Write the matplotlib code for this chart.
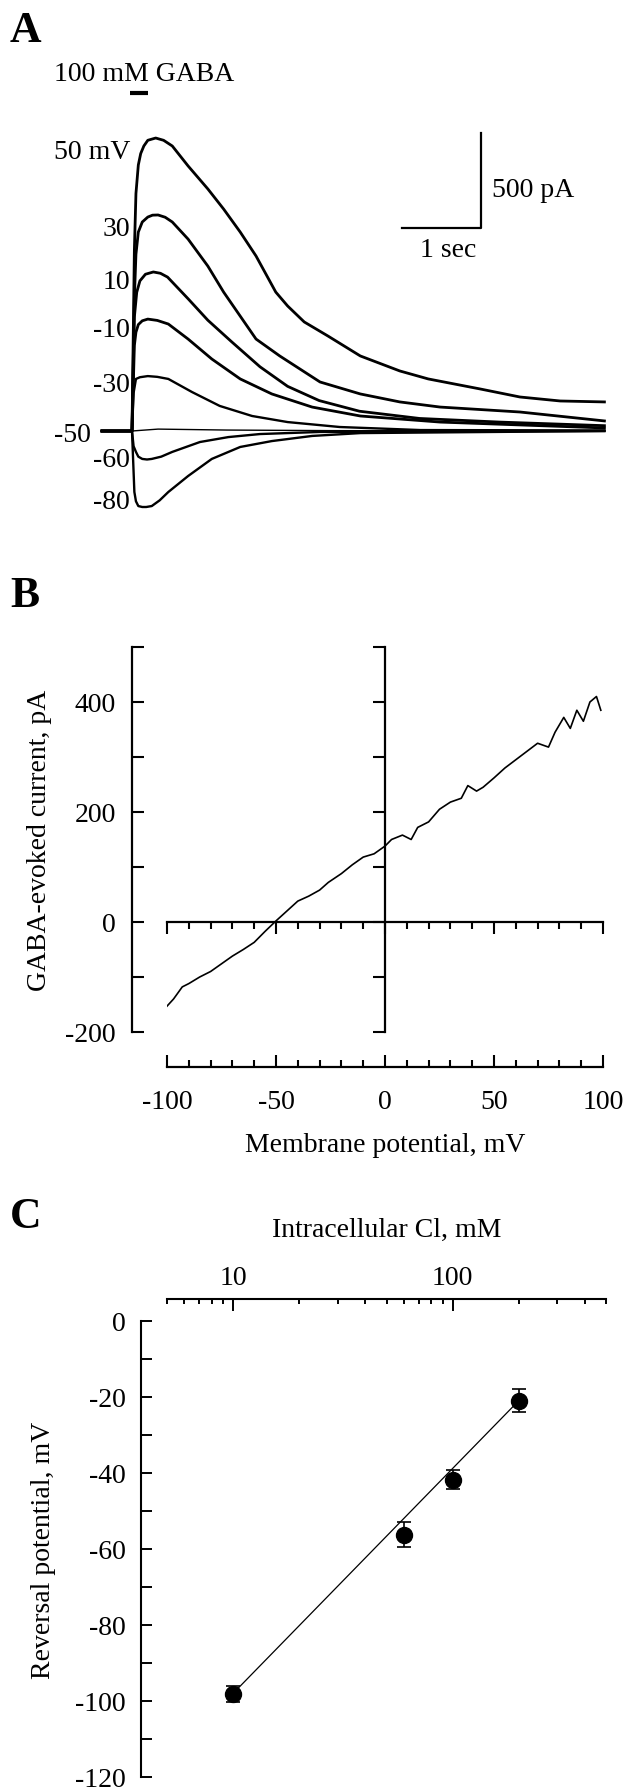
import matplotlib
matplotlib.use('Agg')
import matplotlib.pyplot as plt
from matplotlib.ticker import MultipleLocator, FixedLocator, NullFormatter, LogLocator

plt.rcParams['font.family'] = ['Liberation Serif', 'DejaVu Serif']
plt.rcParams['axes.unicode_minus'] = False
plt.rcParams['font.size'] = 20

# ---- A: GABA-evoked currents, time in s, current in pA ----
hold_labels = ['50 mV', '30', '10', '-10', '-30', '-50', '-60', '-80']
t_p50 = [-0.38, 0.0, 0.03, 0.05, 0.08, 0.11, 0.15, 0.20, 0.30, 0.40, 0.51, 0.71, 0.96, 1.16, 1.37, 1.57, 1.82, 1.97, 2.18, 2.48, 2.89, 3.39, 3.75, 4.41, 4.91, 5.42, 5.98]
i_p50 = [0, 0, 950, 1250, 1400, 1460, 1500, 1530, 1542, 1530, 1500, 1395, 1274, 1168, 1047, 921, 731, 658, 574, 500, 395, 316, 274, 221, 179, 158, 153]
t_p30 = [-0.38, 0.0, 0.03, 0.05, 0.08, 0.13, 0.20, 0.26, 0.33, 0.42, 0.51, 0.71, 0.96, 1.16, 1.57, 1.87, 2.38, 2.89, 3.39, 3.90, 4.91, 5.98]
i_p30 = [0, 0, 700, 930, 1047, 1100, 1126, 1136, 1137, 1125, 1100, 1010, 868, 731, 484, 395, 258, 195, 153, 126, 100, 53]
t_p10 = [-0.38, 0.0, 0.03, 0.06, 0.10, 0.17, 0.27, 0.36, 0.45, 0.71, 0.96, 1.26, 1.62, 1.97, 2.37, 2.88, 3.64, 4.65, 5.98]
i_p10 = [0, 0, 600, 730, 790, 825, 837, 830, 810, 696, 583, 470, 338, 235, 160, 104, 66, 47, 28]
t_m10 = [-0.38, 0.0, 0.03, 0.05, 0.08, 0.13, 0.20, 0.32, 0.46, 0.71, 1.01, 1.37, 1.77, 2.28, 2.89, 3.90, 5.98]
i_m10 = [0, 0, 450, 520, 560, 580, 589, 582, 563, 484, 379, 274, 195, 126, 79, 47, 16]
t_m30 = [-0.38, 0.0, 0.02, 0.05, 0.10, 0.20, 0.32, 0.46, 0.76, 1.11, 1.52, 1.97, 2.63, 3.65, 5.98]
i_m30 = [0, 0, 200, 274, 283, 289, 285, 274, 205, 132, 79, 47, 21, 5, 3]
t_m50 = [-0.38, 0.0, 0.33, 1.2, 2.5, 5.98]
i_m50 = [0, 0, 10, 5, 2, 0]
t_m60 = [-0.38, 0.0, 0.02, 0.05, 0.08, 0.13, 0.19, 0.25, 0.37, 0.51, 0.86, 1.22, 1.62, 2.38, 5.98]
i_m60 = [0, 0, -80, -110, -135, -147, -150, -147, -135, -110, -58, -32, -16, -5, 0]
t_m80 = [-0.38, 0.0, 0.03, 0.05, 0.08, 0.13, 0.18, 0.25, 0.35, 0.46, 0.71, 1.01, 1.37, 1.77, 2.28, 2.89, 5.98]
i_m80 = [0, 0, -321, -370, -395, -400, -400, -395, -365, -321, -237, -147, -84, -53, -26, -11, 0]
gaba_on = [-0.02, 0.2]

# ---- B: I-V relation ----
vm = [-100, -97, -93, -90, -85, -80, -75, -70, -65, -60, -55, -50, -45, -40, -35, -30, -26, -20, -15, -10, -5, 0,
      3, 8, 12, 15, 20, 25, 30, 35, 38, 42, 45, 50, 55, 60, 65, 70, 75, 78, 82, 85, 88, 91, 94, 97, 99]
i_gaba = [-153, -140, -118, -112, -100, -90, -76, -62, -50, -37, -17, 2, 20, 38, 47, 58, 72, 88, 104, 118, 124, 138,
          150, 158, 150, 172, 182, 205, 218, 225, 248, 238, 245, 262, 280, 295, 310, 325, 318, 345, 372, 352, 385, 365, 400, 410, 385]

# ---- C: reversal potential vs intracellular Cl ----
cl_mM = [10, 60, 100, 200]
erev = [-98.2, -56.2, -41.8, -21.0]
erev_err = [2.1, 3.3, 2.5, 3.0]
fit_cl = [10, 200]
fit_erev = [-98, -21]

W, H = 625, 1790
PT = 0.72  # points per pixel at dpi 100


def box(l, t, r, b):
    return [l / W, 1 - b / H, (r - l) / W, (b - t) / H]


fig = plt.figure(figsize=(W / 100, H / 100), dpi=100)

# ---------------- A ----------------
T0, PX_S, Y0, PX_PA = 132, 79, 432, 0.19
tx = lambda px: (px - T0) / PX_S
iy = lambda py: (Y0 - py) / PX_PA

axA = fig.add_axes(box(0, 0, W, 560))
axA.axis('off')
axA.set_xlim(tx(0), tx(W))
axA.set_ylim(iy(560), iy(0))

traces = [(t_p50, i_p50, 2.0), (t_p30, i_p30, 2.0), (t_p10, i_p10, 2.0), (t_m10, i_m10, 2.0),
          (t_m30, i_m30, 1.7), (t_m50, i_m50, 1.0), (t_m60, i_m60, 1.7), (t_m80, i_m80, 1.7)]
for t, i, lw in traces:
    axA.plot(t, i, color='k', lw=lw, solid_joinstyle='round')

# holding-potential labels (baseline pixel rows)
lab_rows = [159, 236, 289, 337, 392, 442, 467, 509]
for lab, row in zip(hold_labels, lab_rows):
    xr = tx(91) if lab == '-50' else tx(130)
    axA.text(xr, iy(row), lab, ha='right', va='baseline')

axA.plot(gaba_on, [iy(94)] * 2, color='k', lw=3, solid_capstyle='butt')
axA.text(tx(54), iy(81), '100 mM GABA', ha='left', va='baseline')

# scale bar
axA.plot([tx(402), tx(481), tx(481)], [iy(229), iy(229), iy(134)], color='k', lw=1.6)
axA.text(tx(492), iy(197), '500 pA', ha='left', va='baseline')
axA.text(tx(448), iy(257), '1 sec', ha='center', va='baseline')

# ---------------- B ----------------
axB = fig.add_axes(box(167, 648, 603, 1033))
axB.patch.set_visible(False)
axB.plot(vm, i_gaba, color='k', lw=1.2)
axB.set_xlim(-100, 100)
axB.set_ylim(-200, 500)
axB.spines['left'].set_position(('outward', 35 * PT))
axB.spines['bottom'].set_position(('outward', 35 * PT))
axB.spines['right'].set_position(('data', 0))
axB.spines['top'].set_position(('data', 0))
for s in axB.spines.values():
    s.set_linewidth(1.6)
axB.xaxis.set_major_locator(MultipleLocator(50))
axB.xaxis.set_minor_locator(MultipleLocator(10))
axB.yaxis.set_major_locator(MultipleLocator(200))
axB.yaxis.set_minor_locator(MultipleLocator(100))
axB.tick_params(which='both', direction='in', top=True, right=True,
                labeltop=False, labelright=False, width=1.5)
axB.tick_params(axis='y', which='both', length=12 * PT, pad=16 * PT)
axB.tick_params(axis='x', which='major', length=12 * PT, pad=22 * PT)
axB.tick_params(axis='x', which='minor', length=7 * PT)
axB.set_xlabel('Membrane potential, mV', va='baseline')
axB.xaxis.set_label_coords(0.5, (1033 - 1152) / 385)
axB.set_ylabel('GABA-evoked current, pA', va='baseline')
axB.yaxis.set_label_coords((46 - 167) / 436, 0.5)

# ---------------- C ----------------
axC = fig.add_axes(box(167, 1322, 606, 1778))
axC.patch.set_visible(False)
axC.set_xscale('log')
axC.plot(fit_cl, fit_erev, color='k', lw=0.9)
axC.errorbar(cl_mM, erev, yerr=erev_err, fmt='o', color='k', ms=11.5,
             capsize=4.7, elinewidth=1.2, capthick=1.2)
axC.set_xlim(5, 500)
axC.set_ylim(-120, 0)
axC.spines['bottom'].set_visible(False)
axC.spines['right'].set_visible(False)
axC.spines['top'].set_position(('outward', 22 * PT))
axC.spines['left'].set_position(('outward', 26 * PT))
for s in axC.spines.values():
    s.set_linewidth(1.5)
axC.xaxis.tick_top()
axC.xaxis.set_label_position('top')
axC.xaxis.set_major_locator(FixedLocator([10, 100]))
axC.xaxis.set_major_formatter(plt.FixedFormatter(['10', '100']))
axC.xaxis.set_minor_locator(LogLocator(subs=range(2, 10)))
axC.xaxis.set_minor_formatter(NullFormatter())
axC.yaxis.set_major_locator(MultipleLocator(20))
axC.yaxis.set_minor_locator(MultipleLocator(10))
axC.tick_params(which='both', direction='in', width=1.4)
axC.tick_params(axis='x', which='major', length=12 * PT, pad=9 * PT)
axC.tick_params(axis='x', which='minor', length=5 * PT)
axC.tick_params(axis='y', which='both', length=11 * PT, pad=15 * PT)
axC.set_xlabel('Intracellular Cl, mM', va='baseline')
axC.xaxis.set_label_coords(0.5, 1 + (1322 - 1237) / 456)
axC.set_ylabel('Reversal potential, mV', va='baseline')
axC.yaxis.set_label_coords((50 - 167) / 439, 0.5)

# panel letters
for letter, row in [('A', 42), ('B', 607), ('C', 1228)]:
    fig.text(10 / W, 1 - row / H, letter, fontsize=31.5, fontweight='bold', va='baseline')

fig.savefig('out.png', dpi=100)
